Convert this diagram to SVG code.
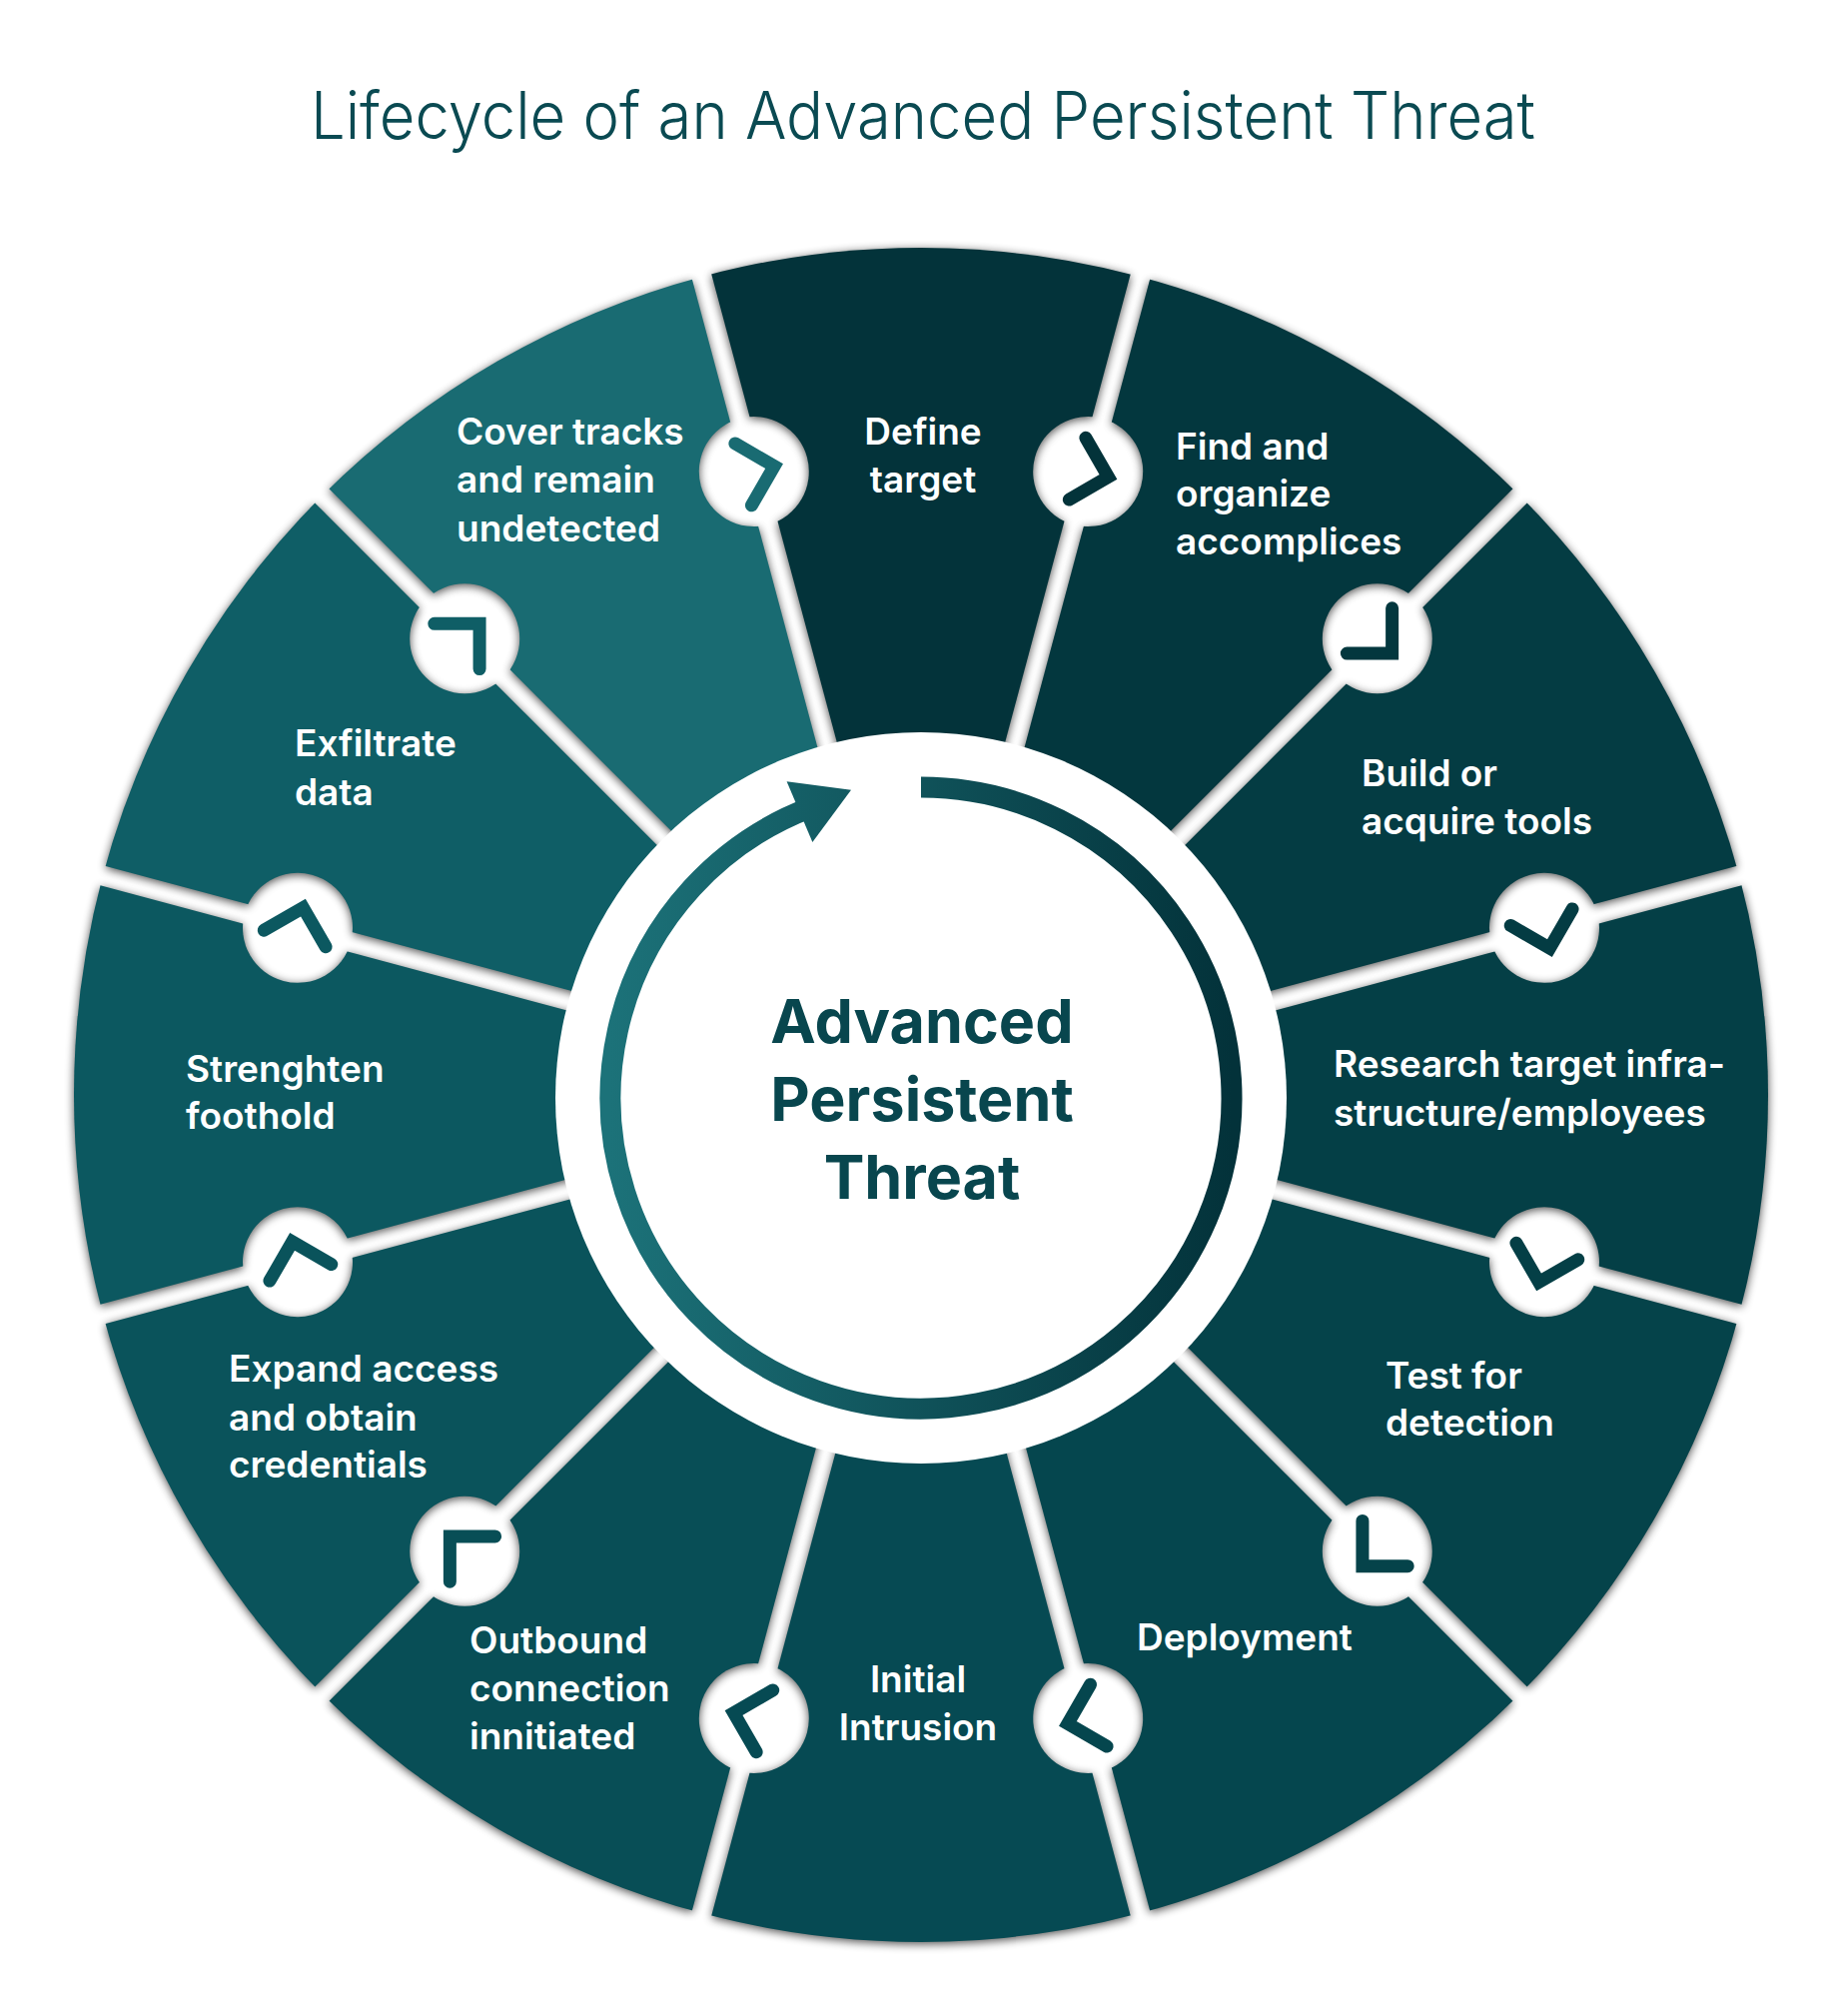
<svg xmlns="http://www.w3.org/2000/svg" width="1850" height="2003" viewBox="0 0 1850 2003">
<style>
.lbl{font-family:Inter,'Liberation Sans',sans-serif;font-weight:600;font-size:37px;fill:#ffffff}
.mid{text-anchor:middle}
.title{font-family:Inter,'Liberation Sans',sans-serif;font-weight:300;font-size:66px;fill:#0a4a52}
.core{font-family:Inter,'Liberation Sans',sans-serif;font-weight:700;font-size:61px;fill:#08464e;text-anchor:middle}
.chev{fill:none;stroke-width:13;stroke-linecap:round;stroke-linejoin:miter}
</style>
<defs>
<filter id="sh" filterUnits="userSpaceOnUse" x="0" y="0" width="1850" height="2003" color-interpolation-filters="sRGB">
<feGaussianBlur in="SourceAlpha" stdDeviation="5"/>
<feOffset dy="2" result="o"/>
<feComponentTransfer><feFuncA type="linear" slope="0.7"/></feComponentTransfer>
<feMerge><feMergeNode/><feMergeNode in="SourceGraphic"/></feMerge>
</filter>
<mask id="holes" maskUnits="userSpaceOnUse" x="0" y="0" width="1850" height="2003">
<rect width="1850" height="2003" fill="#fff"/>
<g transform="translate(922 1096)" stroke="#000" stroke-width="20">
<line x1="0" y1="0" x2="900" y2="0" transform="rotate(-105)"/>
<line x1="0" y1="0" x2="900" y2="0" transform="rotate(-75)"/>
<line x1="0" y1="0" x2="900" y2="0" transform="rotate(-45)"/>
<line x1="0" y1="0" x2="900" y2="0" transform="rotate(-15)"/>
<line x1="0" y1="0" x2="900" y2="0" transform="rotate(15)"/>
<line x1="0" y1="0" x2="900" y2="0" transform="rotate(45)"/>
<line x1="0" y1="0" x2="900" y2="0" transform="rotate(75)"/>
<line x1="0" y1="0" x2="900" y2="0" transform="rotate(105)"/>
<line x1="0" y1="0" x2="900" y2="0" transform="rotate(135)"/>
<line x1="0" y1="0" x2="900" y2="0" transform="rotate(165)"/>
<line x1="0" y1="0" x2="900" y2="0" transform="rotate(195)"/>
<line x1="0" y1="0" x2="900" y2="0" transform="rotate(225)"/>
</g>
<g transform="translate(922 1096)" fill="#000">
<circle cx="646" cy="0" r="55" transform="rotate(-105)"/>
<circle cx="646" cy="0" r="55" transform="rotate(-75)"/>
<circle cx="646" cy="0" r="55" transform="rotate(-45)"/>
<circle cx="646" cy="0" r="55" transform="rotate(-15)"/>
<circle cx="646" cy="0" r="55" transform="rotate(15)"/>
<circle cx="646" cy="0" r="55" transform="rotate(45)"/>
<circle cx="646" cy="0" r="55" transform="rotate(75)"/>
<circle cx="646" cy="0" r="55" transform="rotate(105)"/>
<circle cx="646" cy="0" r="55" transform="rotate(135)"/>
<circle cx="646" cy="0" r="55" transform="rotate(165)"/>
<circle cx="646" cy="0" r="55" transform="rotate(195)"/>
<circle cx="646" cy="0" r="55" transform="rotate(225)"/>
</g>
</mask>
<path id="wedge" d="M0,0 L848,0 A848,848 0 0 1 734.39,424 Z"/>
<linearGradient id="ringg" gradientUnits="userSpaceOnUse" x1="611" y1="0" x2="1233" y2="0">
<stop offset="0" stop-color="#1c7279"/>
<stop offset="1" stop-color="#03323a"/>
</linearGradient>
</defs>
<rect width="1850" height="2003" fill="#ffffff"/>
<text class="title" x="311" y="139" textLength="1226" lengthAdjust="spacingAndGlyphs">Lifecycle of an Advanced Persistent Threat</text>

<g id="node-define">
<g filter="url(#sh)"><g mask="url(#holes)"><use href="#wedge" fill="#03333a" transform="translate(922 1096) rotate(-105)"/></g></g>
<text class="lbl mid" x="924" y="445">Define</text>
<text class="lbl mid" x="924" y="493">target</text>
</g>
<g id="node-find">
<g filter="url(#sh)"><g mask="url(#holes)"><use href="#wedge" fill="#03373e" transform="translate(922 1096) rotate(-75)"/></g></g>
<text class="lbl" x="1177" y="460">Find and</text>
<text class="lbl" x="1177" y="507">organize</text>
<text class="lbl" x="1177" y="555">accomplices</text>
</g>
<g id="node-build">
<g filter="url(#sh)"><g mask="url(#holes)"><use href="#wedge" fill="#043c43" transform="translate(922 1096) rotate(-45)"/></g></g>
<text class="lbl" x="1363" y="787">Build or</text>
<text class="lbl" x="1363" y="835">acquire tools</text>
</g>
<g id="node-research">
<g filter="url(#sh)"><g mask="url(#holes)"><use href="#wedge" fill="#043f46" transform="translate(922 1096) rotate(-15)"/></g></g>
<text class="lbl" x="1335" y="1078">Research target infra-</text>
<text class="lbl" x="1335" y="1127">structure/employees</text>
</g>
<g id="node-test">
<g filter="url(#sh)"><g mask="url(#holes)"><use href="#wedge" fill="#05434a" transform="translate(922 1096) rotate(15)"/></g></g>
<text class="lbl" x="1387" y="1390">Test for</text>
<text class="lbl" x="1387" y="1437">detection</text>
</g>
<g id="node-deployment">
<g filter="url(#sh)"><g mask="url(#holes)"><use href="#wedge" fill="#05464e" transform="translate(922 1096) rotate(45)"/></g></g>
<text class="lbl" x="1138" y="1652">Deployment</text>
</g>
<g id="node-initial">
<g filter="url(#sh)"><g mask="url(#holes)"><use href="#wedge" fill="#064a53" transform="translate(922 1096) rotate(75)"/></g></g>
<text class="lbl mid" x="919" y="1694">Initial</text>
<text class="lbl mid" x="919" y="1742">Intrusion</text>
</g>
<g id="node-outbound">
<g filter="url(#sh)"><g mask="url(#holes)"><use href="#wedge" fill="#084e56" transform="translate(922 1096) rotate(105)"/></g></g>
<text class="lbl" x="470" y="1655">Outbound</text>
<text class="lbl" x="470" y="1703">connection</text>
<text class="lbl" x="470" y="1751">innitiated</text>
</g>
<g id="node-expand">
<g filter="url(#sh)"><g mask="url(#holes)"><use href="#wedge" fill="#0a535b" transform="translate(922 1096) rotate(135)"/></g></g>
<text class="lbl" x="229" y="1383">Expand access</text>
<text class="lbl" x="229" y="1432">and obtain</text>
<text class="lbl" x="229" y="1479">credentials</text>
</g>
<g id="node-strengthen">
<g filter="url(#sh)"><g mask="url(#holes)"><use href="#wedge" fill="#0c5860" transform="translate(922 1096) rotate(165)"/></g></g>
<text class="lbl" x="186" y="1083">Strenghten</text>
<text class="lbl" x="186" y="1130">foothold</text>
</g>
<g id="node-exfiltrate">
<g filter="url(#sh)"><g mask="url(#holes)"><use href="#wedge" fill="#0f5e66" transform="translate(922 1096) rotate(195)"/></g></g>
<text class="lbl" x="295" y="757">Exfiltrate</text>
<text class="lbl" x="295" y="806">data</text>
</g>
<g id="node-cover">
<g filter="url(#sh)"><g mask="url(#holes)"><use href="#wedge" fill="#196b72" transform="translate(922 1096) rotate(225)"/></g></g>
<text class="lbl" x="457" y="445">Cover tracks</text>
<text class="lbl" x="457" y="493">and remain</text>
<text class="lbl" x="457" y="542">undetected</text>
</g>

<g id="connectors">
<path class="chev" stroke="#196b72" d="M-32,-11 L0,21 L32,-11" transform="translate(922 1096) rotate(-105) translate(646 0)"/>
<path class="chev" stroke="#03333a" d="M-32,-11 L0,21 L32,-11" transform="translate(922 1096) rotate(-75) translate(646 0)"/>
<path class="chev" stroke="#03373e" d="M-32,-11 L0,21 L32,-11" transform="translate(922 1096) rotate(-45) translate(646 0)"/>
<path class="chev" stroke="#043c43" d="M-32,-11 L0,21 L32,-11" transform="translate(922 1096) rotate(-15) translate(646 0)"/>
<path class="chev" stroke="#043f46" d="M-32,-11 L0,21 L32,-11" transform="translate(922 1096) rotate(15) translate(646 0)"/>
<path class="chev" stroke="#05434a" d="M-32,-11 L0,21 L32,-11" transform="translate(922 1096) rotate(45) translate(646 0)"/>
<path class="chev" stroke="#05464e" d="M-32,-11 L0,21 L32,-11" transform="translate(922 1096) rotate(75) translate(646 0)"/>
<path class="chev" stroke="#064a53" d="M-32,-11 L0,21 L32,-11" transform="translate(922 1096) rotate(105) translate(646 0)"/>
<path class="chev" stroke="#084e56" d="M-32,-11 L0,21 L32,-11" transform="translate(922 1096) rotate(135) translate(646 0)"/>
<path class="chev" stroke="#0a535b" d="M-32,-11 L0,21 L32,-11" transform="translate(922 1096) rotate(165) translate(646 0)"/>
<path class="chev" stroke="#0c5860" d="M-32,-11 L0,21 L32,-11" transform="translate(922 1096) rotate(195) translate(646 0)"/>
<path class="chev" stroke="#0f5e66" d="M-32,-11 L0,21 L32,-11" transform="translate(922 1096) rotate(225) translate(646 0)"/>
</g>

<g id="center">
<circle cx="922" cy="1099" r="366" fill="#ffffff"/>
<path d="M922,788 A311,311 0 1 1 810.55,808.66" fill="none" stroke="url(#ringg)" stroke-width="21"/>
<path d="M787.59,782.34 L852.03,790.84 L813.37,843.10 Z" fill="url(#ringg)"/>
<text class="core" x="923" y="1044">Advanced</text>
<text class="core" x="923" y="1122">Persistent</text>
<text class="core" x="923" y="1200">Threat</text>
</g>
</svg>
